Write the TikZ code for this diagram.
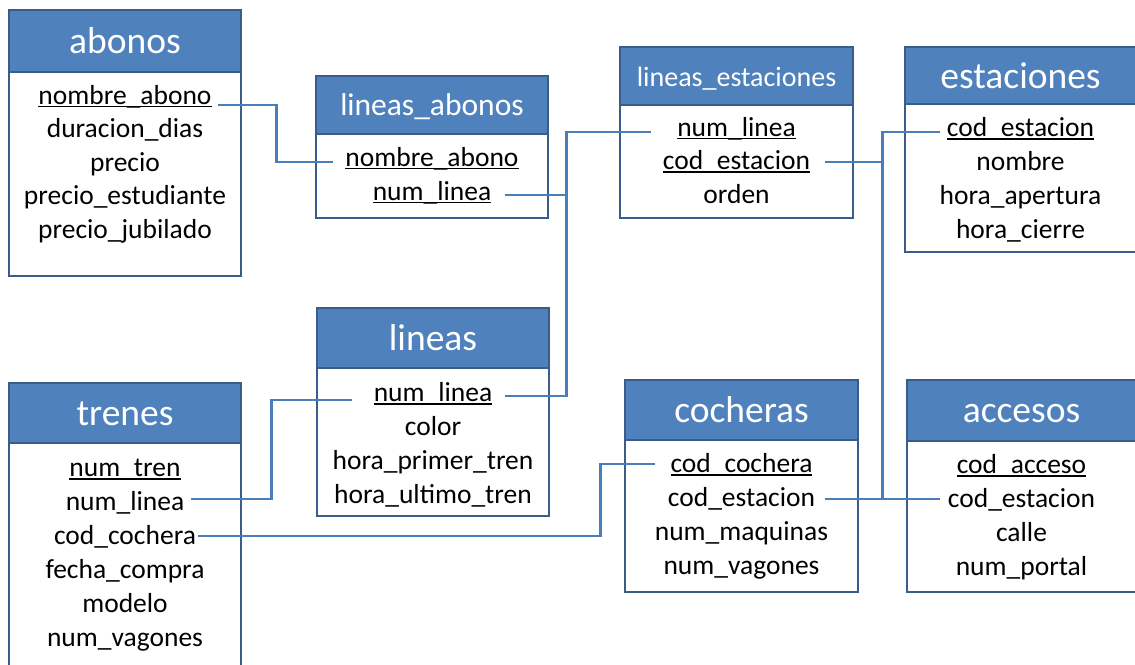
\documentclass[tikz,border=0pt]{standalone}
\usepackage{fontspec}
\setmainfont{Carlito}
\definecolor{hdr}{HTML}{4F81BD}
\definecolor{bord}{HTML}{385D8A}
\definecolor{lnk}{HTML}{4A7EBB}
\newcommand\pkey[1]{\setbox0\hbox{#1}\rlap{\rule[-3pt]{\wd0}{1.2pt}}\box0}
\begin{document}
\begin{tikzpicture}[x=1pt,y=-1pt,
 hbox/.style={draw=bord, line width=2.8pt, fill=hdr},
 bbox/.style={draw=bord, line width=2.8pt, fill=white},
 ttl/.style={font=\fontsize{37.5}{40}\selectfont, text=white, inner sep=0pt, anchor=base},
 row/.style={font=\fontsize{27.5}{33}\selectfont, inner sep=0pt, anchor=base},
 conn/.style={draw=lnk, line width=2.6pt}]
\useasboundingbox (0,0) rectangle (1135,664);
\clip (0,0) rectangle (1135,664);

% abonos
\draw[bbox] (9,72) rectangle (241,276);
\draw[hbox] (9,10) rectangle (241,72);
\node[ttl] (abT) at (125,53) {abonos};
\node[row, minimum width=232pt] (ab1) at (125,104) {\pkey{nombre\_abono}};
\node[row, minimum width=232pt] (ab2) at (125,137.5) {duracion\_dias};
\node[row, minimum width=232pt] (ab3) at (125,171) {precio};
\node[row, minimum width=232pt] (ab4) at (125,204.5) {precio\_estudiante};
\node[row, minimum width=232pt] (ab5) at (125,238) {precio\_jubilado};

% lineas_abonos
\draw[bbox] (316,134) rectangle (548,218);
\draw[hbox] (316,76) rectangle (548,134);
\node[ttl, font=\fontsize{31.5}{34}\selectfont] (laT) at (432,115) {lineas\_abonos};
\node[row, minimum width=232pt] (la1) at (432,166) {\pkey{nombre\_abono}};
\node[row, minimum width=232pt] (la2) at (432,200) {\pkey{num\_linea}};

% lineas_estaciones
\draw[bbox] (620,105) rectangle (853,218);
\draw[hbox] (620,47) rectangle (853,105);
\node[ttl, font=\fontsize{28}{31}\selectfont] (leT) at (736.5,86) {lineas\_estaciones};
\node[row, minimum width=233pt] (le1) at (736.5,136) {\pkey{num\_linea}};
\node[row, minimum width=233pt] (le2) at (736.5,169.5) {\pkey{cod\_estacion}};
\node[row, minimum width=233pt] (le3) at (736.5,203) {orden};

% estaciones
\draw[bbox] (905,104) rectangle (1136,252);
\draw[hbox] (905,47) rectangle (1136,104);
\node[ttl] (esT) at (1020.5,88) {estaciones};
\node[row, minimum width=231pt] (es1) at (1020.5,136.5) {\pkey{cod\_estacion}};
\node[row, minimum width=231pt] (es2) at (1020.5,170) {nombre};
\node[row, minimum width=231pt] (es3) at (1020.5,204) {hora\_apertura};
\node[row, minimum width=231pt] (es4) at (1020.5,238) {hora\_cierre};

% lineas
\draw[bbox] (317,368) rectangle (549,516);
\draw[hbox] (317,308) rectangle (549,368);
\node[ttl] (liT) at (433,350) {lineas};
\node[row, minimum width=232pt] (li1) at (433,401.5) {\pkey{num\_linea}};
\node[row, minimum width=232pt] (li2) at (433,435.5) {color};
\node[row, minimum width=232pt] (li3) at (433,469.5) {hora\_primer\_tren};
\node[row, minimum width=232pt] (li4) at (433,503.5) {hora\_ultimo\_tren};

% trenes
\draw[bbox] (9,443) rectangle (241,690);
\draw[hbox] (9,383) rectangle (241,443);
\node[ttl] (trT) at (125,425) {trenes};
\node[row, minimum width=232pt] (tr1) at (125,476.5) {\pkey{num\_tren}};
\node[row, minimum width=232pt] (tr2) at (125,510.5) {num\_linea};
\node[row, minimum width=232pt] (tr3) at (125,544.5) {cod\_cochera};
\node[row, minimum width=232pt] (tr4) at (125,578.5) {fecha\_compra};
\node[row, minimum width=232pt] (tr5) at (125,612.5) {modelo};
\node[row, minimum width=232pt] (tr6) at (125,646.5) {num\_vagones};

% cocheras
\draw[bbox] (625,440) rectangle (858,592);
\draw[hbox] (625,380) rectangle (858,440);
\node[ttl] (coT) at (741.5,422) {cocheras};
\node[row, minimum width=233pt] (co1) at (741.5,472.5) {\pkey{cod\_cochera}};
\node[row, minimum width=233pt] (co2) at (741.5,506.5) {cod\_estacion};
\node[row, minimum width=233pt] (co3) at (741.5,540.5) {num\_maquinas};
\node[row, minimum width=233pt] (co4) at (741.5,574.5) {num\_vagones};

% accesos
\draw[bbox] (907,441) rectangle (1136,592);
\draw[hbox] (907,380) rectangle (1136,441);
\node[ttl] (acT) at (1021.5,422.5) {accesos};
\node[row, minimum width=229pt] (ac1) at (1021.5,473.5) {\pkey{cod\_acceso}};
\node[row, minimum width=229pt] (ac2) at (1021.5,507.5) {cod\_estacion};
\node[row, minimum width=229pt] (ac3) at (1021.5,541.5) {calle};
\node[row, minimum width=229pt] (ac4) at (1021.5,575.5) {num\_portal};

% connectors
\draw[conn] ([shift={(-23,1)}]ab1.base east) -- ++(58,0) |- ([shift={(17,-4)}]la1.base west);
\draw[conn] ([shift={(-43,-5)}]la2.base east) -- ++(61,0);
\draw[conn] ([shift={(-44,-5.5)}]li1.base east) -- ++(61,0) |- ([shift={(31,-4)}]le1.base west);
\draw[conn] ([shift={(-50,-11.5)}]tr2.base east) -- ++(80,0) |- ([shift={(35,-1.5)}]li1.base west);
\draw[conn] ([shift={(-43,-8.5)}]tr3.base east) -- ++(402,0) |- ([shift={(30,-8.5)}]co1.base west);
\draw[conn] ([shift={(-28,-7.5)}]le2.base east) -- ++(57,0);
\draw[conn] ([shift={(-33,-7.5)}]co2.base east) -- ++(57,0) |- ([shift={(35,-4.5)}]es1.base west);
\draw[conn] ([shift={(-33,-7.5)}]co2.base east) -- ([shift={(33,-8.5)}]ac2.base west);
\end{tikzpicture}
\end{document}
